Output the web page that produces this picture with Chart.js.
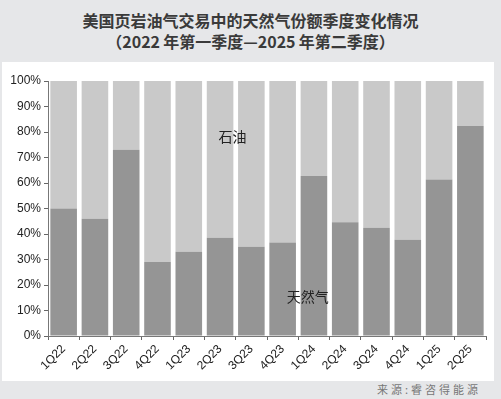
<!DOCTYPE html>
<html><head><meta charset="utf-8">
<script src="https://cdn.jsdelivr.net/npm/chart.js@4"></script>
<style>
html,body{margin:0;padding:0;}
body{width:501px;height:399px;background:#e6e7e9;position:relative;overflow:hidden;font-family:"Noto Sans CJK SC","Liberation Sans",sans-serif;}
#panel{position:absolute;left:2px;top:62px;width:492px;height:319px;background:#fff;}
.t{position:absolute;left:0;width:501px;text-align:center;font-size:16px;font-weight:bold;color:#3a3a3a;line-height:20px;}
#src{position:absolute;right:20px;top:380px;font-size:11px;color:#777;letter-spacing:3px;line-height:18px;}
#c{position:absolute;left:0;top:0;}
</style></head>
<body>
<div class="t" style="top:10px;">美国页岩油气交易中的天然气份额季度变化情况</div>
<div class="t" style="top:31px;">（2022&#8201;年第一季度—2025&#8201;年第二季度）</div>
<div id="panel"></div>
<div id="src">来源:睿咨得能源</div>
<canvas id="c" width="501" height="399"></canvas>
<script>
const categories = ['1Q22','2Q22','3Q22','4Q22','1Q23','2Q23','3Q23','4Q23','1Q24','2Q24','3Q24','4Q24','1Q25','2Q25'];
const gasShare = [50, 46, 73, 29, 33, 38.5, 35, 36.7, 62.7, 44.6, 42.5, 37.7, 61.4, 82.4];
const oilShare = [50, 54, 27, 71, 67, 61.5, 65, 63.3, 37.3, 55.4, 57.5, 62.3, 38.6, 17.6];
const yTicks = [0,10,20,30,40,50,60,70,80,90,100];
const seriesNames = ['天然气','石油'];
// annotation anchors: [category position (fractional index), value]
const annotations = [
  {text:'石油', at:[5.4, 78.3]},
  {text:'天然气', at:[7.8, 15.4]}
];

const annotPlugin = {
  id:'annot',
  afterDatasetsDraw(chart){
    const {ctx, scales:{x,y}} = chart;
    const step = x.getPixelForValue(1) - x.getPixelForValue(0);
    ctx.save();
    ctx.font = '14px "Noto Sans CJK SC"';
    ctx.fillStyle = '#222';
    ctx.textAlign = 'center';
    ctx.textBaseline = 'middle';
    annotations.forEach(a=>{
      const px = x.getPixelForValue(0) + step*a.at[0];
      const py = y.getPixelForValue(a.at[1]);
      ctx.fillText(a.text, px, py);
    });
    ctx.restore();
  }
};

new Chart(document.getElementById('c'), {
  type:'bar',
  data:{
    labels: categories,
    datasets:[
      {label:seriesNames[0], data:gasShare, backgroundColor:'#959595', barPercentage:0.85, categoryPercentage:1},
      {label:seriesNames[1], data:oilShare, backgroundColor:'#c9c9c9', barPercentage:0.85, categoryPercentage:1}
    ]
  },
  options:{
    responsive:false,
    animation:false,
    layout:{padding:{left:0, top:81, right:15, bottom:0}},
    plugins:{legend:{display:false}, tooltip:{enabled:false}, title:{display:false}},
    scales:{
      x:{
        stacked:true,
        offset:true,
        grid:{display:true, drawOnChartArea:false, drawTicks:true, tickLength:4, offset:true, color:'#666'},
        border:{display:true, color:'#777'},
        ticks:{minRotation:45, maxRotation:45, color:'#222', font:{family:'"Liberation Sans"', size:12}, padding:2},
        afterFit(s){ s.height = 399 - 336; }
      },
      y:{
        stacked:true,
        min:0, max:100,
        afterBuildTicks(s){ s.ticks = yTicks.map(v=>({value:v})); },
        grid:{display:true, drawOnChartArea:false, drawTicks:true, tickLength:4, color:'#666'},
        border:{display:true, color:'#777'},
        ticks:{color:'#222', font:{family:'"Liberation Sans"', size:12}, padding:3, callback:v=>v+'%'},
        afterFit(s){ s.width = 48; }
      }
    }
  },
  plugins:[annotPlugin]
});
</script>
</body></html>
